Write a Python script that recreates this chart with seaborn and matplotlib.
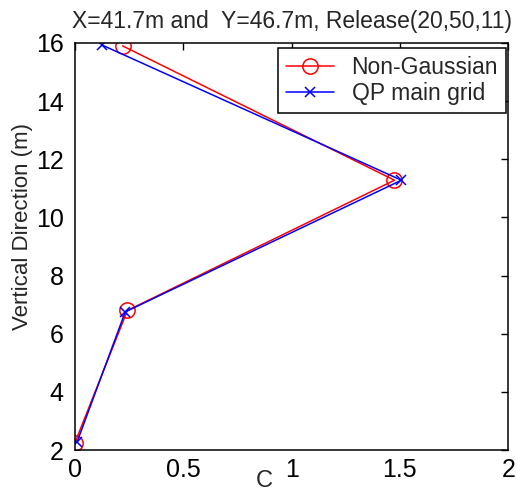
import matplotlib
matplotlib.use("Agg")
import matplotlib.pyplot as plt
import pandas as pd
import seaborn as sns

# values
conc_ng = [0.22, 1.475, 0.242, 0.0]
depth_ng = [15.9, 11.28, 6.8, 2.25]
conc_qp = [0.125, 1.507, 0.232, 0.01]
depth_qp = [15.93, 11.28, 6.75, 2.28]
series_names = ["Non-Gaussian", "QP main grid"]
x_ticks = [0, 0.5, 1, 1.5, 2]
y_ticks = [2, 4, 6, 8, 10, 12, 14, 16]
title = "X=41.7m and  Y=46.7m, Release(20,50,11)"

sns.set_style("white")
plt.rcParams["font.family"] = ["Liberation Sans", "DejaVu Sans"]

df_ng = pd.DataFrame({"c": conc_ng, "z": depth_ng})
df_qp = pd.DataFrame({"c": conc_qp, "z": depth_qp})

fig = plt.figure(figsize=(5.17, 4.93), dpi=100)
ax = fig.add_axes([0.145, 0.0872, 0.838, 0.8256])

# seaborn puts a white edge on markers by default, so set edge colours here
sns.lineplot(data=df_ng, x="c", y="z", sort=False, estimator=None, ax=ax,
             color="#ff0000", linewidth=1.1, marker="o", markersize=11,
             markerfacecolor="none", markeredgecolor="#ff0000",
             markeredgewidth=1.1, label=series_names[0])
sns.lineplot(data=df_qp, x="c", y="z", sort=False, estimator=None, ax=ax,
             color="#0000ff", linewidth=1.1, marker="x", markersize=7,
             markeredgecolor="#0000ff", markeredgewidth=1.1,
             label=series_names[1])

ax.set_xlim(0, 2)
ax.set_ylim(2, 16)
ax.set_xticks(x_ticks)
ax.set_xticklabels([f"{t:g}" for t in x_ticks])
ax.set_yticks(y_ticks)
ax.tick_params(direction="in", length=5, width=1, labelsize=18,
               top=True, right=True, colors="black")
ax.tick_params(axis="x", pad=6)
ax.tick_params(axis="y", pad=8)
for s in ax.spines.values():
    s.set_color("black")
    s.set_linewidth(1.1)

ax.set_title(title, fontsize=16.5, pad=11)
ax.set_ylabel("Vertical Direction (m)", fontsize=16)
ax.yaxis.set_label_coords(-0.097, 0.55)
ax.set_xlabel("C", fontsize=17)
ax.xaxis.set_label_coords(0.437, -0.05)

leg = ax.legend(loc="upper right", bbox_to_anchor=(0.995, 0.988),
                fontsize=16.5, frameon=True, fancybox=False, framealpha=1,
                edgecolor="black", handlelength=2.1, handletextpad=0.75,
                borderpad=0.35, labelspacing=0.15, borderaxespad=0)
leg.get_frame().set_linewidth(1.1)

fig.savefig("out.png", dpi=100)
